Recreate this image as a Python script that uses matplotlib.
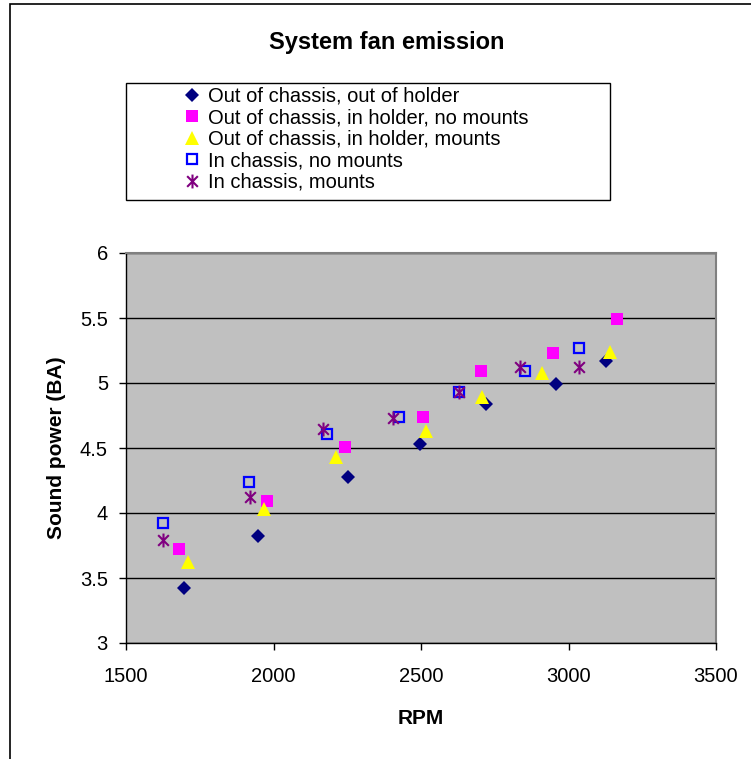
import numpy as np
import matplotlib
matplotlib.use("Agg")
import matplotlib.pyplot as plt
from matplotlib.path import Path
from matplotlib.patches import Rectangle

plt.rcParams['font.family'] = ['Liberation Sans', 'DejaVu Sans']

# measurements: RPM vs sound power
rpm_out_out = [1696, 1946, 2251, 2495, 2719, 2958, 3127]
pwr_out_out = [3.42, 3.82, 4.28, 4.53, 4.84, 4.99, 5.17]

rpm_out_holder = [1679, 1977, 2241, 2506, 2702, 2946, 3163]
pwr_out_holder = [3.72, 4.09, 4.51, 4.735, 5.09, 5.23, 5.49]

rpm_out_holder_mounts = [1709, 1967, 2211, 2516, 2706, 2909, 3141]
pwr_out_holder_mounts = [3.62, 4.03, 4.43, 4.63, 4.89, 5.08, 5.24]

rpm_in_nomounts = [1624, 1916, 2180, 2425, 2630, 2853, 3034]
pwr_in_nomounts = [3.92, 4.24, 4.61, 4.735, 4.93, 5.09, 5.27]

rpm_in_mounts = [1627, 1920, 2169, 2406, 2630, 2836, 3037]
pwr_in_mounts = [3.79, 4.125, 4.65, 4.73, 4.93, 5.125, 5.125]

labels = ["Out of chassis, out of holder",
          "Out of chassis, in holder, no mounts",
          "Out of chassis, in holder, mounts",
          "In chassis, no mounts",
          "In chassis, mounts"]

# asterisk marker: X with a vertical stroke
star = Path([(-1, -1), (1, 1), (-1, 1), (1, -1), (0, -1.3), (0, 1.3)],
            [Path.MOVETO, Path.LINETO, Path.MOVETO, Path.LINETO,
             Path.MOVETO, Path.LINETO])

W, H = 751, 759
fig = plt.figure(figsize=(W / 100, H / 100), dpi=100)
fig.patch.set_facecolor('white')

# outer chart border
fig.patches.append(Rectangle((10 / W, -0.05), 1.1, 1.05 - 4 / H,
                             transform=fig.transFigure, fill=False,
                             edgecolor='black', lw=1.2))

ax = fig.add_axes([126 / W, 1 - 643 / H, 590 / W, 390 / H])
ax.set_facecolor('#C0C0C0')

h1, = ax.plot(rpm_out_out, pwr_out_out, ls='none', marker='D', ms=6.8,
              color='#000080', mew=0)
h2, = ax.plot(rpm_out_holder, pwr_out_holder, ls='none', marker='s', ms=8.5,
              color='#FF00FF', mew=0)
h3, = ax.plot(rpm_out_holder_mounts, pwr_out_holder_mounts, ls='none',
              marker='^', ms=10, color='#FFFF00', mew=0)
h4, = ax.plot(rpm_in_nomounts, pwr_in_nomounts, ls='none', marker='s', ms=7.5,
              mfc='none', mec='#0000FF', mew=1.6)
h5, = ax.plot(rpm_in_mounts, pwr_in_mounts, ls='none', marker=star, ms=10,
              mfc='none', mec='#800080', mew=1.5)

ax.set_xlim(1500, 3500)
ax.set_ylim(3, 6)
ax.set_xticks(np.arange(1500, 3501, 500))
ax.set_yticks(np.arange(3, 6.01, 0.5))
ax.set_yticklabels(['3', '3.5', '4', '4.5', '5', '5.5', '6'])
ax.yaxis.grid(True, color='black', lw=1)
ax.set_axisbelow(True)
ax.tick_params(axis='both', direction='out', length=5, width=1,
               labelsize=14.5, colors='black')
ax.tick_params(axis='y', pad=8)
ax.tick_params(axis='x', pad=12)
for s in ['top', 'right']:
    ax.spines[s].set_color('#808080')
    ax.spines[s].set_linewidth(1.5)
for s in ['left', 'bottom']:
    ax.spines[s].set_color('black')
    ax.spines[s].set_linewidth(1)

ax.set_xlabel("RPM", fontsize=15, fontweight='bold', labelpad=17)
ax.set_ylabel("Sound power (BA)", fontsize=15, fontweight='bold', labelpad=10)

fig.text(387 / W, 1 - 42 / H, "System fan emission", ha='center', va='center',
         fontsize=17, fontweight='bold')

# legend box
fig.patches.append(Rectangle((126 / W, 1 - 200 / H), 484 / W, 117 / H,
                             transform=fig.transFigure, fill=False,
                             edgecolor='black', lw=1))
fig.legend([h1, h2, h3, h4, h5], labels, loc='upper left',
           bbox_to_anchor=(184 / W, 1 - 87 / H), frameon=False,
           fontsize=14.5, handlelength=0.8, handletextpad=0.4,
           labelspacing=0.12, borderpad=0, borderaxespad=0)

fig.savefig("out.png", dpi=100)
